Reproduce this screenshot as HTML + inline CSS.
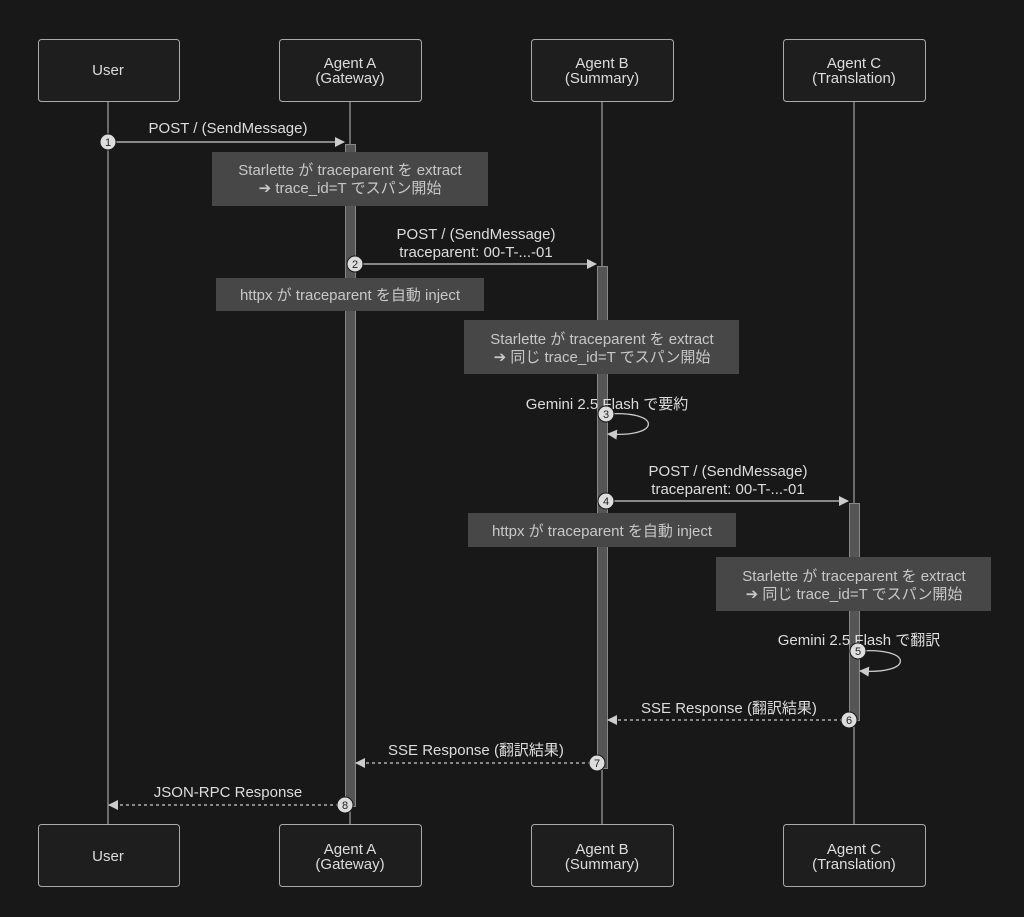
<!DOCTYPE html>
<html><head><meta charset="utf-8"><style>
html,body{margin:0;padding:0;background:#181818;}
svg{display:block;font-family:"Liberation Sans","Noto Sans CJK JP",sans-serif;}
</style></head><body>
<svg width="1024" height="917" viewBox="0 0 1024 917" xmlns="http://www.w3.org/2000/svg">
<defs>
<marker id="ar" markerWidth="10" markerHeight="10" refX="9" refY="5" orient="auto" markerUnits="userSpaceOnUse"><path d="M0,0 L10,5 L0,10 z" fill="#ccc"/></marker>
</defs>
<rect width="1024" height="917" fill="#181818"/>
<g stroke="#bbb" stroke-width="1">
<line x1="108" y1="101" x2="108" y2="824"/>
<line x1="350" y1="101" x2="350" y2="824"/>
<line x1="602" y1="101" x2="602" y2="824"/>
<line x1="854" y1="101" x2="854" y2="824"/>
</g>
<g fill="#1e1e1e" stroke="#aaa" stroke-width="1">
<rect x="38.5" y="39.5" width="141" height="62" rx="3"/>
<rect x="279.5" y="39.5" width="142" height="62" rx="3"/>
<rect x="531.5" y="39.5" width="142" height="62" rx="3"/>
<rect x="783.5" y="39.5" width="142" height="62" rx="3"/>
<rect x="38.5" y="824.5" width="141" height="62" rx="3"/>
<rect x="279.5" y="824.5" width="142" height="62" rx="3"/>
<rect x="531.5" y="824.5" width="142" height="62" rx="3"/>
<rect x="783.5" y="824.5" width="142" height="62" rx="3"/>
</g>
<g fill="#ddd" font-size="15" text-anchor="middle">
<text x="108" y="75">User</text>
<text x="350" y="68">Agent A</text><text x="350" y="83">(Gateway)</text>
<text x="602" y="68">Agent B</text><text x="602" y="83">(Summary)</text>
<text x="854" y="68">Agent C</text><text x="854" y="83">(Translation)</text>
<text x="108" y="861">User</text>
<text x="350" y="854">Agent A</text><text x="350" y="869">(Gateway)</text>
<text x="602" y="854">Agent B</text><text x="602" y="869">(Summary)</text>
<text x="854" y="854">Agent C</text><text x="854" y="869">(Translation)</text>
</g>
<g fill="#555" stroke="#888" stroke-width="1">
<rect x="345.5" y="144.5" width="10" height="662"/>
<rect x="597.5" y="266.5" width="10" height="502"/>
<rect x="849.5" y="503.5" width="10" height="217"/>
</g>
<g fill="#474747">
<rect x="212" y="152" width="276" height="54"/>
<rect x="216" y="278" width="268" height="33"/>
<rect x="464" y="320" width="275" height="54"/>
<rect x="468" y="513" width="268" height="34"/>
<rect x="716" y="557" width="275" height="54"/>
</g>
<g fill="#c8c8c8" font-size="15" text-anchor="middle">
<text x="350" y="175">Starlette が traceparent を extract</text>
<text x="350" y="193">➔ trace_id=T でスパン開始</text>
<text x="350" y="300">httpx が traceparent を自動 inject</text>
<text x="602" y="344">Starlette が traceparent を extract</text>
<text x="602" y="362">➔ 同じ trace_id=T でスパン開始</text>
<text x="602" y="536">httpx が traceparent を自動 inject</text>
<text x="854" y="581">Starlette が traceparent を extract</text>
<text x="854" y="599">➔ 同じ trace_id=T でスパン開始</text>
</g>
<g stroke="#ccc" stroke-width="1.3" fill="none">
<line x1="108" y1="142" x2="344" y2="142" marker-end="url(#ar)"/>
<line x1="355" y1="264" x2="596" y2="264" marker-end="url(#ar)"/>
<path d="M607,414 C662,410 662,438 608,434" marker-end="url(#ar)"/>
<line x1="607" y1="501" x2="848" y2="501" marker-end="url(#ar)"/>
<path d="M859,651 C914,647 914,675 860,671" marker-end="url(#ar)"/>
<line x1="849" y1="720" x2="608" y2="720" stroke-dasharray="3,3" marker-end="url(#ar)"/>
<line x1="597" y1="763" x2="356" y2="763" stroke-dasharray="3,3" marker-end="url(#ar)"/>
<line x1="345" y1="805" x2="109" y2="805" stroke-dasharray="3,3" marker-end="url(#ar)"/>
</g>
<g fill="#ddd" font-size="15" text-anchor="middle">
<text x="228" y="133">POST / (SendMessage)</text>
<text x="476" y="239">POST / (SendMessage)</text>
<text x="476" y="257">traceparent: 00-T-...-01</text>
<text x="607" y="409">Gemini 2.5 Flash で要約</text>
<text x="728" y="476">POST / (SendMessage)</text>
<text x="728" y="494">traceparent: 00-T-...-01</text>
<text x="859" y="645">Gemini 2.5 Flash で翻訳</text>
<text x="729" y="713">SSE Response (翻訳結果)</text>
<text x="476" y="755">SSE Response (翻訳結果)</text>
<text x="228" y="797">JSON-RPC Response</text>
</g>
<g stroke="#181818" stroke-width="1" fill="#ddd">
<circle cx="108" cy="142" r="8"/>
<circle cx="355" cy="264" r="8"/>
<circle cx="606" cy="414" r="8"/>
<circle cx="606" cy="501" r="8"/>
<circle cx="858" cy="651" r="8"/>
<circle cx="849" cy="720" r="8"/>
<circle cx="597" cy="763" r="8"/>
<circle cx="345" cy="805" r="8"/>
</g>
<g fill="#222" font-size="11" text-anchor="middle">
<text x="108" y="146">1</text>
<text x="355" y="268">2</text>
<text x="606" y="418">3</text>
<text x="606" y="505">4</text>
<text x="858" y="655">5</text>
<text x="849" y="724">6</text>
<text x="597" y="767">7</text>
<text x="345" y="809">8</text>
</g>
</svg>
</body></html>
